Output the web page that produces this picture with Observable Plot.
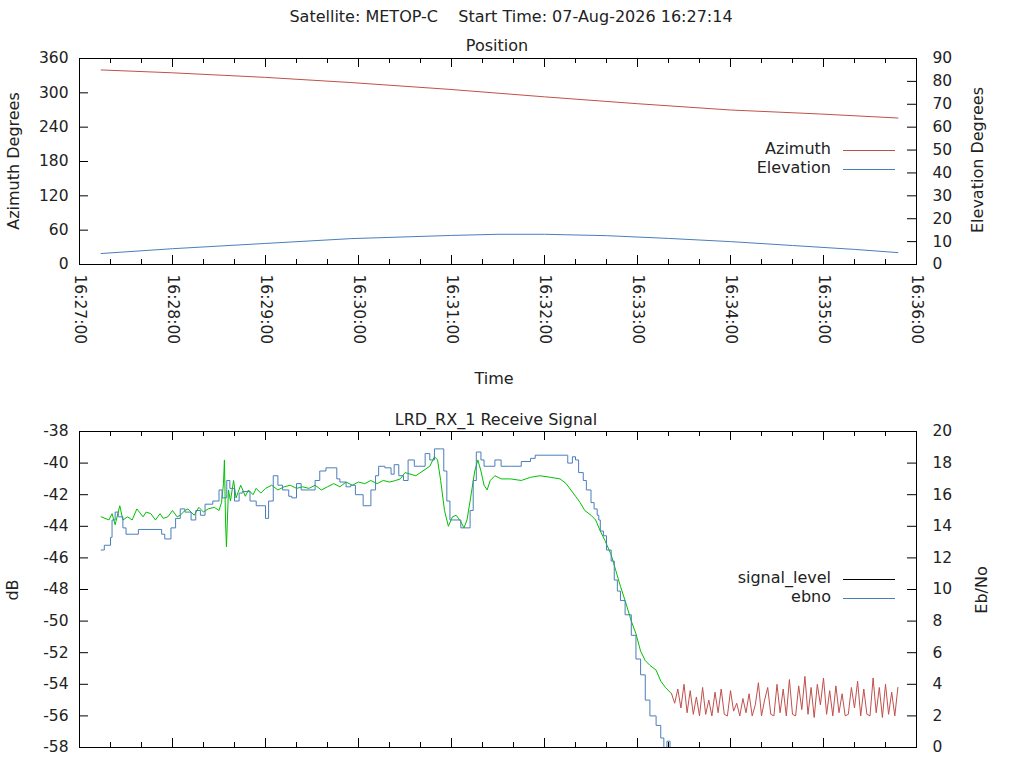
<!DOCTYPE html>
<html><head><meta charset="utf-8">
<script src="https://cdn.jsdelivr.net/npm/d3@7"></script>
<script src="https://cdn.jsdelivr.net/npm/@observablehq/plot@0.6"></script>
<style>
body{margin:0;background:#fff;font-family:"DejaVu Sans",sans-serif;color:#222;overflow:hidden}
#wrap{position:relative;width:1024px;height:768px;overflow:hidden}
.t{position:absolute;font-size:16px;white-space:nowrap;line-height:1}
.svgp{position:absolute;left:0}
.rot{transform:translate(-50%,-50%) rotate(-90deg);}
.leg{position:absolute;height:0;width:52px}
</style></head><body><div id="wrap"></div>
<script>
// ---- data (seconds after 16:27:00) ----
const azT = [14,60,120,175,239,300,360,420,478,528];
const azV = [340,335,327,318,306,293,281,270,263,256];
const elT = [14,60,120,175,240,270,300,340,380,420,460,500,528];
const elV = [4.8,6.9,9.2,11.3,12.7,13.2,13.2,12.6,11.4,10.0,8.3,6.6,5.2];

const sigGreenT = [14,19,21,23,26,28,31,34,37,41,43,46,49,52,54,57,60,63,65,68,70,74,77,80,83,87,90,91.6,92.9,93.5,94.2,94.8,96.1,97.4,99.4,101,104,107,109,112,114,117,120,
 124,128,132,136,140,144,148,152,156,160,164,168,172,176,180,184,188,192,196,200,204,207,
 210,217,223,226,229,231,233,235.5,238,240.6,243,246,248,250,252,255,257,259,261,263,265,268,272,278,285,291,297,304,310,314,317,320,323,326,330,333,336,339,343,346,349,352,356,359,362,365,368,372,375,378,382];
const sigGreenV = [-43.4,-43.6,-43.2,-43.9,-42.7,-43.6,-43.4,-43.6,-42.9,-43.4,-43.1,-43.2,-43.6,-43.2,-43.5,-43.4,-43.0,-43.4,-43.3,-43.0,-42.9,-43.3,-42.8,-43.1,-42.9,-42.8,-43.0,-42.5,-41.3,-39.8,-43.6,-45.3,-41.7,-42.4,-41.1,-42.2,-41.4,-42.1,-41.7,-42.0,-41.6,-41.9,-41.6,
 -41.4,-41.7,-41.5,-41.4,-41.6,-41.5,-41.6,-41.4,-41.7,-41.5,-41.3,-41.5,-41.2,-41.4,-41.2,-41.3,-41.1,-41.3,-41.1,-41.2,-41.1,-41.0,
 -40.6,-40.8,-40.4,-40.2,-39.6,-39.8,-41.1,-43.0,-44.0,-43.4,-43.3,-43.7,-44.1,-43.6,-42.4,-40.5,-39.8,-40.5,-41.4,-41.7,-41.1,-40.8,-41.0,-41.0,-41.1,-40.9,-40.8,-40.9,-41.0,-41.3,-41.7,-42.1,-42.5,-43.0,-43.3,-43.6,-44.3,-44.9,-45.8,-46.8,-47.8,-48.7,-50.0,-50.8,-51.9,-52.5,-52.8,-53.1,-53.8,-54.2,-54.6];
const sigRedStart = 382, sigRedStep = 2;
const sigRedV = [-54.6,-55.2,-54.3,-55.5,-54.0,-55.8,-54.4,-55.9,-54.8,-56.0,
 -54.2,-55.9,-55.0,-56.0,-54.5,-55.8,-54.3,-55.9,-56.0,-54.4,-55.7,-55.2,-56.0,-54.9,-55.8,-54.6,-56.0,-55.3,-53.9,-56.0,-55.0,-54.2,-55.9,-56.0,-54.0,-55.8,-54.3,-56.0,-53.7,-55.9,-56.0,-54.1,-55.6,-53.5,-55.9,-54.2,-56.1,-54.0,-55.3,-53.6,-55.9,-54.4,-56.0,-54.1,-55.8,-54.6,-56.0,-55.9,-54.2,-55.5,-53.8,-56.0,-54.3,-55.9,-56.0,-53.6,-55.8,-54.2,-56.1,-54.0,-55.9,-54.5,-56.0,-54.2];
const ebT = [14,16,20,21,23,25,28,30,38,53,55,59,62,65,68,72,75,78,81,86,90,92,95,97,100,103,105,110,114,120,122,125,128,131,135,137,140,143,152,155,159,166,168,172,175,178,183,188,191,193,197,201,203,206,209,212,216,223,226,229,233,235,237,239,246,252,254,256,259,261,268,272,278,285,291,294,314,315,318,320,322,325,327,330,332,334,335,336,338,340,343,345,347,349,352,356,359,362,365,368,372,375,377,379,381];
const ebV = [12.5,12.8,13.3,14.4,14.9,14.6,13.9,13.5,13.8,13.5,13.2,13.9,14.5,15.1,14.9,14.4,15.0,14.7,15.4,15.6,16.3,15.8,16.9,16.4,15.6,16.1,16.2,15.6,15.3,14.5,15.6,17.2,16.6,16.3,15.9,15.8,16.7,16.3,16.9,17.5,17.7,17.0,16.8,16.5,16.6,16.0,15.3,16.3,17.2,17.8,17.7,17.3,17.9,17.2,16.9,18.2,17.8,18.6,18.2,18.9,18.9,17.5,15.6,14.4,13.9,15.0,16.9,18.7,18.2,17.8,18.2,17.8,17.8,18.1,18.3,18.5,18.5,18.0,18.4,18.2,17.4,16.9,16.3,15.5,15.1,14.7,14.4,13.7,13.4,12.5,11.8,10.6,9.9,9.3,8.4,7.1,5.6,4.6,3.0,2.0,1.4,0.6,0.0,0.4,-0.3];

const azTicks = [0,60,120,180,240,300,360];
const elTicks = [0,10,20,30,40,50,60,70,80,90];
const dbTicks = [-58,-56,-54,-52,-50,-48,-46,-44,-42,-40,-38];
const ebTicks = [0,2,4,6,8,10,12,14,16,18,20];

const RED="#c0504d", BLUE="#4a7ebb", GREEN="#00c000";
const base = Date.UTC(2026,7,7,16,27,0);
const T = s => new Date(base + s*1000);
const xDom = [T(0), T(540)];
const major = d3.range(0,541,60).map(T), minor = d3.range(0,541,20).map(T);
const fmt = d3.utcFormat("%H:%M:%S");

const wrap = document.getElementById("wrap");
function txt(s, x, y, cls="", extra=""){const d=document.createElement("div");d.className="t "+cls;d.textContent=s;d.style.cssText+=`left:${x}px;top:${y}px;${extra}`;wrap.appendChild(d);return d;}
function leg(label, color, y){
  txt(label, 0, y-9, "", "left:auto;right:"+(1024-831)+"px;");
  const l=document.createElement("div");l.className="leg";l.style.cssText=`left:843px;top:${y}px;border-top:1px solid ${color}`;wrap.appendChild(l);
}
function inwardTicks(yDom, ylen, ylenMinor){
  const [y0,y1]=yDom;
  return [
    Plot.ruleX(minor,{y1:y0,y2:y0+ylenMinor,stroke:"#000"}),
    Plot.ruleX(minor,{y1:y1,y2:y1-ylenMinor,stroke:"#000"}),
    Plot.ruleX(major,{y1:y0,y2:y0+ylen,stroke:"#000"}),
    Plot.ruleX(major,{y1:y1,y2:y1-ylen,stroke:"#000"})
  ];
}
const style={fontFamily:"DejaVu Sans",fontSize:"15.5px",color:"#222",background:"transparent",overflow:"visible"};

// ---- Panel 1 ----
const az = azT.map((t,i)=>({t:T(t),v:azV[i]}));
const el = elT.map((t,i)=>({t:T(t),v:elV[i]*4}));
const p1 = Plot.plot({
  width:1024,height:400,marginLeft:79,marginRight:108,marginTop:58,marginBottom:136,style,
  x:{type:"utc",domain:xDom},y:{domain:[0,360]},
  marks:[
    Plot.line(az,{x:"t",y:"v",stroke:RED,strokeWidth:1}),
    Plot.line(el,{x:"t",y:"v",stroke:BLUE,strokeWidth:1}),
    ...inwardTicks([0,360],360*9/206,360*5/206),
    Plot.ruleY(azTicks,{x1:xDom[0],x2:T(540*9/837),stroke:"#000"}),
    Plot.ruleY(elTicks.map(e=>e*4),{x1:xDom[1],x2:T(540-540*9/837),stroke:"#000"}),
    Plot.axisX(major,{tickSize:0,tickRotate:90,tickFormat:fmt,tickPadding:10,label:null,textAnchor:"start",fontSize:15.5}),
    Plot.axisY(azTicks,{anchor:"left",tickSize:0,tickPadding:11,label:null,fontSize:15.5,tickFormat:d=>String(d)}),
    Plot.axisY(elTicks.map(e=>e*4),{anchor:"right",tickSize:0,tickPadding:16,label:null,tickFormat:d=>String(d/4),fontSize:15.5}),
    Plot.frame({stroke:"#000"})
  ]
});
p1.classList.add("svgp");p1.style.top="0px";wrap.appendChild(p1);

// ---- Panel 2 ----
const green = sigGreenT.map((t,i)=>({t:T(t),v:sigGreenV[i]}));
const red = sigRedV.map((v,i)=>({t:T(sigRedStart+i*sigRedStep),v}));
const eb = ebT.map((t,i)=>({t:T(t),v:ebV[i]-58}));
const p2 = Plot.plot({
  width:1024,height:400,marginLeft:79,marginRight:108,marginTop:31,marginBottom:53,style,
  x:{type:"utc",domain:xDom,axis:null},y:{domain:[-58,-38],axis:null},
  marks:[
    Plot.line(green,{x:"t",y:"v",stroke:GREEN,strokeWidth:1,clip:true}),
    Plot.line(red,{x:"t",y:"v",stroke:RED,strokeWidth:1,clip:true}),
    Plot.line(eb,{x:"t",y:"v",stroke:BLUE,strokeWidth:1,curve:"step-after",clip:true}),
    ...inwardTicks([-58,-38],20*9/316,20*5/316),
    Plot.ruleY(dbTicks,{x1:xDom[0],x2:T(540*9/837),stroke:"#000"}),
    Plot.ruleY(ebTicks.map(e=>e-58),{x1:xDom[1],x2:T(540-540*9/837),stroke:"#000"}),
    Plot.axisY(dbTicks,{anchor:"left",tickSize:0,tickPadding:11,label:null,fontSize:15.5,tickFormat:d=>String(d)}),
    Plot.axisY(ebTicks.map(e=>e-58),{anchor:"right",tickSize:0,tickPadding:16,label:null,tickFormat:d=>String(d+58),fontSize:15.5}),
    Plot.frame({stroke:"#000"})
  ]
});
p2.classList.add("svgp");p2.style.top="400px";wrap.appendChild(p2);

// ---- texts ----
txt("Satellite: METOP-C    Start Time: 07-Aug-2026 16:27:14",511,17,"","transform:translate(-50%,-50%);white-space:pre");
txt("Position",497,46,"","transform:translate(-50%,-50%)");
txt("Time",494,379,"","transform:translate(-50%,-50%)");
txt("Azimuth Degrees",14,161,"rot");
txt("Elevation Degrees",978,160,"rot");
txt("LRD_RX_1 Receive Signal",496,420,"","transform:translate(-50%,-50%)");
txt("dB",13,590,"rot");
txt("Eb/No",982,590,"rot");
leg("Azimuth",RED,150);
leg("Elevation",BLUE,169);
leg("signal_level","#000",579);
leg("ebno",BLUE,598);
</script></body></html>
